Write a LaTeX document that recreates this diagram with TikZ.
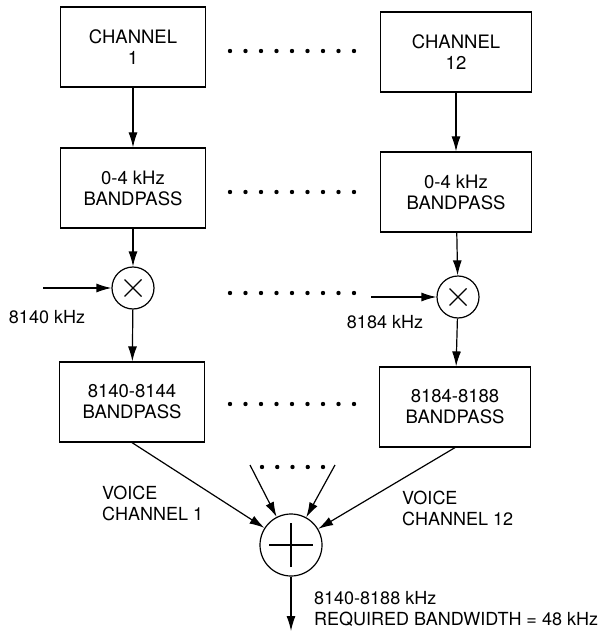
\documentclass[tikz,border=0pt]{standalone}
\usepackage{fontspec}
\setmainfont{TeX Gyre Heros}
\usetikzlibrary{positioning,arrows.meta}
\tikzset{
  basic/.style  = {draw, line width=1.2pt, align=center, font=\fontsize{18.5}{21}\selectfont},
  block/.style  = {basic, rectangle, minimum width=145pt, minimum height=80pt, inner sep=0pt},
  wide/.style   = {block, minimum width=151pt},
  mixer/.style  = {basic, circle, minimum size=42pt, inner sep=0pt},
  adder/.style  = {basic, circle, minimum size=62pt, inner sep=0pt},
  txt/.style    = {align=left, inner sep=0pt, font=\fontsize{18}{21}\selectfont},
  flow/.style   = {draw, line width=1.2pt, -{Latex[length=15pt,width=9pt]}}
}

\begin{document}
\begin{tikzpicture}[x=1pt, y=-1pt]
    \useasboundingbox (0,0) rectangle (607,631);

    \node [block] (ch1)  at (133,47)  {CHANNEL\\1};
    \node [wide]  (ch12) at (456,52)  {CHANNEL\\12};
    \node [block] (bp1)  at (133,188) {0-4 kHz\\BANDPASS};
    \node [wide]  (bp12) at (456,192) {0-4 kHz\\BANDPASS};
    \node [mixer] (mx1)  at (133,288) {};
    \node [mixer] (mx12) at (458,297) {};
    \node [block] (bpa)  at (132,402) {8140-8144\\BANDPASS};
    \node [wide]  (bpb)  at (455,407) {8184-8188\\BANDPASS};
    \node [adder] (sum)  at (291,545) {};

    \foreach \m in {mx1,mx12} {
        \draw [line width=1.2pt] (\m.center) ++(-8.5pt,-8.5pt) -- ++(17pt,17pt);
        \draw [line width=1.2pt] (\m.center) ++(-8.5pt,8.5pt) -- ++(17pt,-17pt);
    }
    \draw [line width=1.2pt] (sum.center) ++(-22pt,0) -- ++(44pt,0);
    \draw [line width=1.2pt] (sum.center) ++(0,-22pt) -- ++(0,44pt);

    \coordinate (in1)  at (43,288);
    \coordinate (in12) at (371,297);
    \coordinate (ia)   at (250,465);
    \coordinate (ib)   at (335,465);
    \coordinate (out)  at (291,631);

    \draw [flow] (ch1)  -- (bp1);
    \draw [flow] (ch12) -- (bp12);
    \draw [flow] (bp1)  -- (mx1);
    \draw [flow] (bp12) -- (mx12);
    \draw [flow] (in1)  -- (mx1);
    \draw [flow] (in12) -- (mx12);
    \draw [flow] (mx1)  -- (bpa);
    \draw [flow] (mx12) -- (bpb);
    \draw [flow] (bpa.south) -- (sum);
    \draw [flow] (bpb.south) -- (sum);
    \draw [flow] (ia)   -- (sum);
    \draw [flow] (ib)   -- (sum);
    \draw [flow] (sum)  -- (out);

    \node [txt] (f1)  at (47,317)  {8140 kHz};
    \node [txt] (f12) at (385,322) {8184 kHz};
    \node [txt, anchor=west] (v1)  at (102,503) {VOICE\\CHANNEL 1};
    \node [txt, anchor=west] (v12) at (402,508) {VOICE\\CHANNEL 12};
    \node [txt, anchor=west] (bw)  at (314,609) {8140-8188 kHz\\REQUIRED BANDWIDTH = 48 kHz};

    \foreach \y in {51,192,293,404}
        \foreach \i in {0,...,8}
            \fill (230+\i*15.5,\y) circle (2.2pt);
    \foreach \i in {0,...,4}
        \fill (262+\i*15.25,467) circle (2.2pt);
\end{tikzpicture}
\end{document}
